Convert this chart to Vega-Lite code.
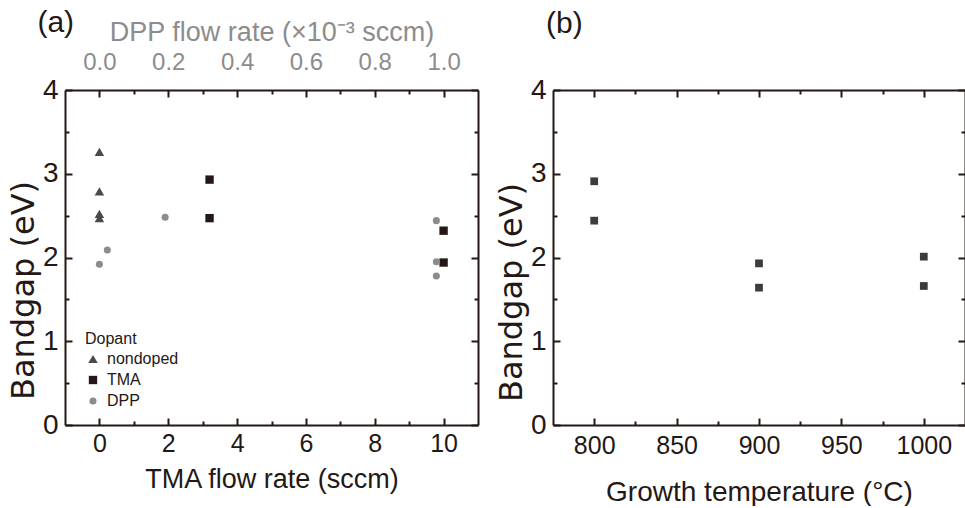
{
  "$schema": "https://vega.github.io/schema/vega-lite/v6.json",
  "background": "white",
  "padding": {"left": 7, "top": 8, "right": 0, "bottom": 0},
  "config": {
    "font": "Liberation Sans",
    "view": {"stroke": null},
    "axis": {"grid": false, "domainColor": "#231815", "domainWidth": 2, "tickColor": "#231815", "tickWidth": 2, "labelColor": "#231815", "titleColor": "#231815", "titleFontWeight": "normal", "labelFont": "Liberation Sans", "titleFont": "Liberation Sans"},
    "legend": {"titleFontSize": 16, "titleFontWeight": "normal", "labelFontSize": 16, "labelColor": "#231815", "titleColor": "#231815", "symbolSize": 60, "rowPadding": 5, "labelOffset": 6, "titlePadding": 4, "labelFont": "Liberation Sans", "titleFont": "Liberation Sans"}
  },
  "datasets": {
    "a": [
      {"tma": 0, "gap": 3.26, "dopant": "nondoped"},
      {"tma": 0, "gap": 2.79, "dopant": "nondoped"},
      {"tma": 0, "gap": 2.52, "dopant": "nondoped"},
      {"tma": 0, "gap": 2.47, "dopant": "nondoped"},
      {"tma": 3.2, "gap": 2.93, "dopant": "TMA"},
      {"tma": 3.2, "gap": 2.47, "dopant": "TMA"},
      {"tma": 10, "gap": 2.32, "dopant": "TMA"},
      {"tma": 10, "gap": 1.94, "dopant": "TMA"}
    ],
    "dpp": [
      {"dpp": 0.023, "gap": 2.09, "dopant": "DPP"},
      {"dpp": 0.0, "gap": 1.92, "dopant": "DPP"},
      {"dpp": 0.191, "gap": 2.48, "dopant": "DPP"},
      {"dpp": 0.979, "gap": 2.44, "dopant": "DPP"},
      {"dpp": 0.979, "gap": 1.95, "dopant": "DPP"},
      {"dpp": 0.979, "gap": 1.78, "dopant": "DPP"}
    ],
    "b": [
      {"temp": 800, "gap": 2.91},
      {"temp": 800, "gap": 2.44},
      {"temp": 900, "gap": 1.93},
      {"temp": 900, "gap": 1.64},
      {"temp": 1000, "gap": 2.01},
      {"temp": 1000, "gap": 1.66}
    ]
  },
  "spacing": 16,
  "hconcat": [
    {
      "width": 413,
      "height": 335,
      "title": {"text": "(a)", "anchor": "start", "frame": "bounds", "dx": 30, "offset": -20, "fontSize": 30, "fontWeight": "normal", "color": "#231815", "font": "Liberation Sans"},
      "layer": [
        {
          "data": {"name": "a"},
          "mark": {"type": "point", "filled": true, "opacity": 1},
          "encoding": {
            "x": {"field": "tma", "type": "quantitative", "scale": {"domain": [-1, 11], "nice": false, "zero": false},
              "axis": {"orient": "bottom", "values": [0, 2, 4, 6, 8, 10], "tickSize": -7, "labelPadding": 13, "labelFontSize": 25, "title": "TMA flow rate (sccm)", "titleFontSize": 27, "titlePadding": 10}},
            "y": {"field": "gap", "type": "quantitative", "scale": {"domain": [0, 4], "nice": false},
              "axis": {"orient": "left", "values": [0, 1, 2, 3, 4], "tickSize": -7, "labelPadding": 14, "labelFontSize": 28, "title": "Bandgap (eV)", "titleFont": "DejaVu Sans", "titleFontSize": 32, "titlePadding": 2, "titleY": 200}},
            "shape": {"field": "dopant", "type": "nominal", "scale": {"domain": ["nondoped", "TMA", "DPP"], "range": ["triangle-up", "square", "circle"]}, "legend": {"title": "Dopant", "orient": "none", "legendX": 20, "legendY": 241}},
            "color": {"field": "dopant", "type": "nominal", "scale": {"domain": ["nondoped", "TMA", "DPP"], "range": ["#4a4a4a", "#231815", "#8c8c8c"]}, "legend": {"title": "Dopant", "orient": "none", "legendX": 20, "legendY": 241}},
            "size": {"field": "dopant", "type": "nominal", "scale": {"domain": ["nondoped", "TMA", "DPP"], "range": [90, 50, 55]}, "legend": null}
          }
        },
        {
          "data": {"name": "dpp"},
          "mark": {"type": "point", "filled": true, "opacity": 1},
          "encoding": {
            "x": {"field": "dpp", "type": "quantitative", "scale": {"domain": [-0.1, 1.1], "nice": false, "zero": false},
              "axis": {"orient": "top", "values": [0, 0.2, 0.4, 0.6, 0.8, 1.0], "format": ".1f", "tickSize": -7, "labelPadding": 23, "labelFontSize": 24, "labelColor": "#8c8c8c", "title": "DPP flow rate (×10⁻³ sccm)", "titleColor": "#8c8c8c", "titleFontSize": 27, "titlePadding": 4}},
            "y": {"field": "gap", "type": "quantitative", "scale": {"domain": [0, 4], "nice": false},
              "axis": {"orient": "right", "values": [0, 1, 2, 3, 4], "tickSize": -7, "labels": false, "title": null}},
            "shape": {"field": "dopant", "type": "nominal", "scale": {"domain": ["nondoped", "TMA", "DPP"], "range": ["triangle-up", "square", "circle"]}, "legend": {"title": "Dopant", "orient": "none", "legendX": 20, "legendY": 241}},
            "color": {"field": "dopant", "type": "nominal", "scale": {"domain": ["nondoped", "TMA", "DPP"], "range": ["#4a4a4a", "#231815", "#8c8c8c"]}, "legend": {"title": "Dopant", "orient": "none", "legendX": 20, "legendY": 241}},
            "size": {"field": "dopant", "type": "nominal", "scale": {"domain": ["nondoped", "TMA", "DPP"], "range": [90, 50, 55]}, "legend": null}
          }
        },
        {
          "data": {"name": "a"},
          "mark": {"type": "point", "opacity": 0},
          "encoding": {
            "x": {"field": "tma", "type": "quantitative", "scale": {"domain": [-1, 11], "nice": false, "zero": false},
              "axis": {"orient": "bottom", "values": [1, 3, 5, 7, 9], "tickSize": -4, "labels": false, "domain": false, "title": null}},
            "y": {"field": "gap", "type": "quantitative", "scale": {"domain": [0, 4], "nice": false},
              "axis": {"orient": "left", "values": [0.5, 1.5, 2.5, 3.5], "tickSize": -4, "labels": false, "domain": false, "title": null}}
          }
        },
        {
          "data": {"name": "a"},
          "mark": {"type": "point", "opacity": 0},
          "encoding": {
            "x": {"field": "tma", "type": "quantitative", "scale": {"domain": [-1, 11], "nice": false, "zero": false},
              "axis": {"orient": "top", "values": [1, 3, 5, 7, 9], "tickSize": -4, "labels": false, "domain": false, "title": null}},
            "y": {"field": "gap", "type": "quantitative", "scale": {"domain": [0, 4], "nice": false},
              "axis": {"orient": "right", "values": [0.5, 1.5, 2.5, 3.5], "tickSize": -4, "labels": false, "domain": false, "title": null}}
          }
        }
      ],
      "resolve": {"scale": {"x": "independent", "y": "independent"}}
    },
    {
      "width": 412,
      "height": 335,
      "title": {"text": "(b)", "anchor": "start", "frame": "group", "dx": -7, "offset": 37, "fontSize": 30, "fontWeight": "normal", "color": "#231815", "font": "Liberation Sans"},
      "layer": [
        {
          "data": {"name": "b"},
          "mark": {"type": "square", "size": 60, "color": "#3c3c3c", "opacity": 1},
          "encoding": {
            "x": {"field": "temp", "type": "quantitative", "scale": {"domain": [775, 1025], "nice": false, "zero": false},
              "axis": {"orient": "bottom", "values": [800, 850, 900, 950, 1000], "format": "d", "tickSize": -7, "labelPadding": 15, "labelFontSize": 25, "title": "Growth temperature (°C)", "titleFontSize": 28, "titlePadding": 20}},
            "y": {"field": "gap", "type": "quantitative", "scale": {"domain": [0, 4], "nice": false},
              "axis": {"orient": "left", "values": [0, 1, 2, 3, 4], "tickSize": -7, "labelPadding": 14, "labelFontSize": 28, "title": "Bandgap (eV)", "titleFont": "DejaVu Sans", "titleFontSize": 32, "titlePadding": 2, "titleY": 202}}
          }
        },
        {
          "data": {"name": "b"},
          "mark": {"type": "point", "opacity": 0},
          "encoding": {
            "x": {"field": "temp", "type": "quantitative", "scale": {"domain": [775, 1025], "nice": false, "zero": false},
              "axis": {"orient": "top", "values": [800, 850, 900, 950, 1000], "tickSize": -7, "labels": false, "title": null}},
            "y": {"field": "gap", "type": "quantitative", "scale": {"domain": [0, 4], "nice": false},
              "axis": {"orient": "right", "values": [0, 1, 2, 3, 4], "tickSize": -7, "labels": false, "title": null}}
          }
        },
        {
          "data": {"name": "b"},
          "mark": {"type": "point", "opacity": 0},
          "encoding": {
            "x": {"field": "temp", "type": "quantitative", "scale": {"domain": [775, 1025], "nice": false, "zero": false},
              "axis": {"orient": "bottom", "values": [825, 875, 925, 975], "tickSize": -4, "labels": false, "domain": false, "title": null}},
            "y": {"field": "gap", "type": "quantitative", "scale": {"domain": [0, 4], "nice": false},
              "axis": {"orient": "left", "values": [0.5, 1.5, 2.5, 3.5], "tickSize": -4, "labels": false, "domain": false, "title": null}}
          }
        },
        {
          "data": {"name": "b"},
          "mark": {"type": "point", "opacity": 0},
          "encoding": {
            "x": {"field": "temp", "type": "quantitative", "scale": {"domain": [775, 1025], "nice": false, "zero": false},
              "axis": {"orient": "top", "values": [825, 875, 925, 975], "tickSize": -4, "labels": false, "domain": false, "title": null}},
            "y": {"field": "gap", "type": "quantitative", "scale": {"domain": [0, 4], "nice": false},
              "axis": {"orient": "right", "values": [0.5, 1.5, 2.5, 3.5], "tickSize": -4, "labels": false, "domain": false, "title": null}}
          }
        }
      ],
      "resolve": {"scale": {"x": "independent", "y": "independent"}}
    }
  ]
}
